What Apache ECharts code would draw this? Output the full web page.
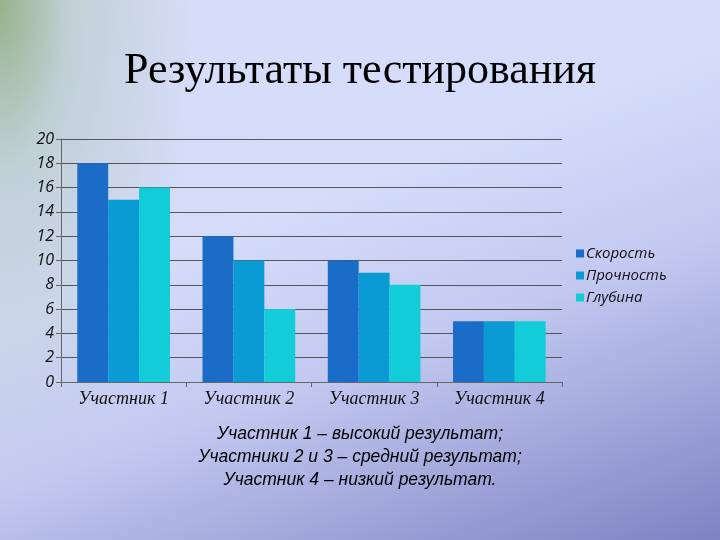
<!DOCTYPE html>
<html><head><meta charset="utf-8">
<script src="https://cdn.jsdelivr.net/npm/echarts@6/dist/echarts.min.js"></script>
<style>
html,body{margin:0;padding:0;}
#c{width:720px;height:540px;
background:
 radial-gradient(ellipse 200px 480px at 0px 0px, rgba(140,170,120,0.85) 0%, rgba(170,195,180,0.5) 35%, rgba(200,215,240,0) 100%),
 linear-gradient(160deg, #d8def8 0%, #d4dcfa 40%, #c2c8f0 62%, #9ea4d8 82%, #7d83c2 100%);}
</style></head><body>
<div id="c"></div>
<script>
var categories = ['Участник 1','Участник 2','Участник 3','Участник 4'];
var speed = [18, 12, 10, 5];
var strength = [15, 10, 9, 5];
var depth = [16, 6, 8, 5];
var seriesNames = ['Скорость','Прочность','Глубина'];
var notes = ['Участник 1 – высокий результат;','Участники 2 и 3 – средний результат;','Участник 4 – низкий результат.'];

var chart = echarts.init(document.getElementById('c'), null, {renderer:'canvas'});
var colors = ['#1a6cc6','#0a9bd5','#12cdd8'];
chart.setOption({
  backgroundColor: 'transparent',
  animation: false,
  color: colors,
  title: [{
    text: 'Результаты тестирования', left: 'center', top: 44,
    textStyle: {fontFamily: 'Liberation Serif', fontSize: 44, fontWeight: 'normal', color: '#000'}
  },{
    text: notes.join('\n'), left: 'center', top: 418,
    textStyle: {fontFamily: 'Liberation Sans', fontStyle: 'italic', fontSize: 17.5, fontWeight: 'normal', color: '#000', lineHeight: 23}
  }],
  legend: {
    orient: 'vertical', left: 571, top: 241, itemWidth: 8, itemHeight: 8, itemGap: 7,
    icon: 'rect',
    textStyle: {fontFamily: 'Open Sans', fontStyle: 'italic', fontSize: 15, color: '#111', padding: [0,0,0,-3]},
    data: seriesNames
  },
  grid: {left: 61, right: 158, top: 139, bottom: 158, containLabel: false},
  xAxis: {
    type: 'category', data: categories,
    axisLine: {lineStyle: {color: '#666', width: 1}},
    axisTick: {show: true, alignWithLabel: false, length: 5, lineStyle: {color: '#666'}},
    axisLabel: {fontFamily: 'Liberation Serif', fontStyle: 'italic', fontSize: 18, color: '#111', margin: 8}
  },
  yAxis: {
    type: 'value', min: 0, max: 20, interval: 2,
    axisLine: {show: true, lineStyle: {color: '#666'}},
    axisTick: {show: true, length: 5, lineStyle: {color: '#666'}},
    axisLabel: {fontFamily: 'Open Sans', fontStyle: 'italic', fontSize: 16, color: '#111', margin: 7},
    splitLine: {lineStyle: {color: '#555', width: 1}}
  },
  series: [
    {name: seriesNames[0], type: 'bar', data: speed, barGap: '0%', barCategoryGap: '26%'},
    {name: seriesNames[1], type: 'bar', data: strength},
    {name: seriesNames[2], type: 'bar', data: depth}
  ]
});
</script>
</body></html>
